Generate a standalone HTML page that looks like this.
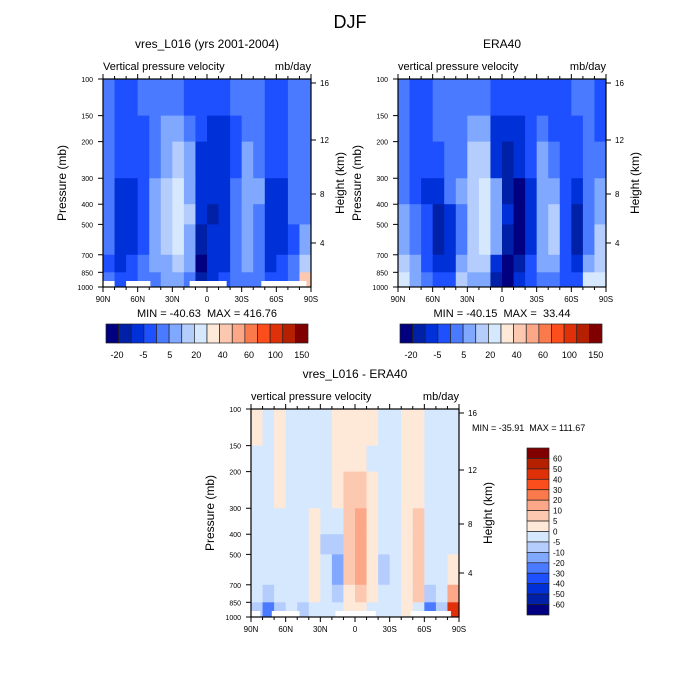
<!DOCTYPE html>
<html><head><meta charset="utf-8"><style>
body{margin:0;background:#fff}
svg{display:block;font-family:"Liberation Sans",sans-serif}
.pre{white-space:pre}
</style></head><body>
<svg id="s" width="700" height="700" viewBox="0 0 700 700">
<text x="350" y="28" font-size="18" text-anchor="middle">DJF</text>
</svg>
<script>
const bands=[100,150,200,300,400,500,700,850,1000];
const latLabels=["90N","60N","30N","0","30S","60S","90S"];
const pLabels=[100,150,200,300,400,500,700,850,1000];
const hLabels=[16,12,8,4];
const hOffsets=[4,61,115,164];
const topLevels=["-20","-5","5","20","40","60","100","150"];
const diffLevels=["60","50","40","30","20","10","5","0","-5","-10","-20","-30","-40","-50","-60"];
const palette=["#000080","#0020a8","#0030d8","#1e50ff","#4a7aff","#80a8ff","#b4cdfd","#d6e8fe","#fee8d8","#fdc8b0","#fca888","#fb7a4c","#fc4e1c","#e0300a","#b42000","#800000"];
const topBounds=[-20,-10,-5,0,5,10,20,30,40,50,60,80,100,120,150];
const diffBounds=[-60,-50,-40,-30,-20,-10,-5,0,5,10,20,30,40,50,60];
const modelGrid=[
[2,-2,-2,2,2,2,2,-2,-2,-2,-2,2,2,2,-2,-2,2,2],
[2,-2,-2,-2,2,7,7,2,-2,-7,-7,-2,2,2,-2,-2,2,2],
[2,-2,-2,-2,2,7,15,7,-7,-7,-7,-2,7,2,-2,-2,2,2],
[2,-7,-7,-2,7,15,25,7,-7,-7,-7,2,7,7,-7,-7,2,2],
[2,-7,-7,-2,7,15,25,15,-7,-15,-7,2,7,2,-7,-7,2,2],
[2,-7,-7,-2,7,15,25,7,-15,-7,-7,2,7,2,-7,-7,-2,7],
[-2,-7,-2,2,7,7,15,7,-30,-7,-7,2,7,2,-7,-2,2,15],
[2,-2,-2,2,2,7,7,2,-15,-7,-2,2,2,2,-2,-2,2,40]];
const eraGrid=[
[2,-2,-2,2,2,2,2,2,-2,-2,-2,-2,-2,-2,-2,2,2,-2],
[2,-2,-2,2,2,2,7,7,-7,-7,-7,-2,2,-2,-2,-2,2,-2],
[2,-2,-2,-2,2,2,15,15,-7,-15,-7,-2,7,2,-2,-2,2,2],
[2,-2,-7,-7,2,7,15,25,7,-15,-30,-7,7,7,-2,-7,2,7],
[7,2,-2,-15,-7,2,15,25,7,-7,-30,-7,7,15,-2,-15,2,7],
[7,2,-2,-15,-7,2,15,25,7,-15,-30,-7,7,15,-2,-15,2,15],
[15,7,-2,-7,-7,7,15,15,-7,-30,-15,-2,7,7,-2,-7,7,15],
[25,7,2,-2,-2,15,7,7,-15,-30,-7,-2,2,2,-2,-2,25,25]];
const diffGrid=[
[2,-2,2,-2,-2,-2,-2,2,2,2,2,-2,-2,2,2,-2,-2,-2],
[-2,-2,2,-2,-2,-2,-2,2,2,2,-2,-2,-2,2,2,-2,-2,-2],
[-2,-2,2,-2,-2,-2,-2,2,7,7,2,-2,-2,2,2,-2,-2,-2],
[-2,-2,-2,-2,-2,2,-2,-2,7,15,2,-2,-2,2,7,-2,-2,-2],
[-2,-2,-2,-2,-2,2,-7,-7,7,15,2,-2,-2,2,7,-2,-2,-2],
[-2,-2,-2,-2,-2,2,-2,-15,7,15,2,-7,-2,2,7,-2,-2,2],
[-2,-7,-2,-2,-2,2,-2,-7,2,7,2,-2,-2,2,7,-7,-2,15],
[-7,-25,-7,-2,-7,-2,-2,-2,2,2,-2,-2,-2,2,-2,-25,-7,40]];
const modelMissing=[[0,10],[20,41],[75,107],[137,176]];
const eraMissing=[];
const diffMissing=[[0,8],[18,42],[73,108],[138,173]];

const S=document.getElementById('s');
const NS="http://www.w3.org/2000/svg";
function mk(tag,attrs,parent){const e=document.createElementNS(NS,tag);for(const k in attrs)e.setAttribute(k,attrs[k]);(parent||S).appendChild(e);return e;}
function txt(x,y,s,size,anchor,parent){const t=mk('text',{x:x,y:y,'font-size':size,'text-anchor':anchor||'middle'},parent);t.textContent=s;return t;}
function colorIdx(v,b){let i=0;while(i<b.length&&v>=b[i])i++;return i;}

function panel(o){
  const W=208,H=208,X=o.x,Y=o.y;
  const g=mk('g',{});
  
  
  const xs=lat=>X+lat/180*W;
  const yp=p=>Y+(Math.log10(p)-2)*H;
  const nc=o.grid[0].length;
  o.grid.forEach((row,bi)=>{row.forEach((v,ci)=>{
    const r=mk('rect',{x:xs(ci*180/nc),y:yp(bands[bi]),width:W/nc+0.5,height:yp(bands[bi+1])-yp(bands[bi])+0.5,fill:palette[colorIdx(v,o.bounds)]},g);
    
    
  });});
  o.missing.forEach(m=>{const r=mk('rect',{x:xs(m[0]),y:Y+H-6,width:xs(m[1])-xs(m[0]),height:6,fill:'#fff'},g);
    
    });
  mk('rect',{x:X,y:Y,width:W,height:H,fill:'none',stroke:'#000','stroke-width':1.2},g);
  for(let d=0;d<=180;d+=10){const x=xs(d);const maj=d%30==0;
    mk('line',{x1:x,x2:x,y1:Y+H,y2:Y+H+(maj?5:3),stroke:'#000'},g);
    mk('line',{x1:x,x2:x,y1:Y,y2:Y-(maj?5:3),stroke:'#000'},g);}
  latLabels.forEach((l,i)=>{const t=txt(xs(i*30),Y+H+15,l,8,'middle',g);
    
    });
  pLabels.forEach(p=>{mk('line',{x1:X,x2:X-5,y1:yp(p),y2:yp(p),stroke:'#000'},g);
    const t=txt(X-10,yp(p)+3,String(p),7,'end',g);
    
    });
  hLabels.forEach((h,i)=>{const y=Y+hOffsets[i];mk('line',{x1:X+W,x2:X+W+5,y1:y,y2:y,stroke:'#000'},g);
    const t=txt(X+W+9,y+3,String(h),8,'start',g);
    
    });
  const t1=txt(X+W/2,Y-31,o.title,12,'middle',g);
  
  
  const t2=txt(X,Y-9,o.sub,11,'start',g);
  
  
  const t3=txt(X+W,Y-9,'mb/day',11,'end',g);
  
  
  const yl=txt(0,0,'Pressure (mb)',12,'middle',g);yl.setAttribute('transform',`translate(${X-37},${Y+H/2}) rotate(-90)`);
  
  
  const hl=txt(0,0,'Height (km)',12,'middle',g);hl.setAttribute('transform',`translate(${X+W+33},${Y+H/2}) rotate(-90)`);
  
  
  return {X,Y,W,H};
}
function hbar(x){
  const g=mk('g',{});
  
  
  const w=202/16;
  palette.forEach((c,i)=>{const r=mk('rect',{x:x+i*w,y:324,width:w,height:19,fill:c,stroke:'#222','stroke-width':0.7},g);
    
    });
  topLevels.forEach((l,i)=>{const t=txt(x+11+i*26.4,358,l,9,'middle',g);
    
    });
}
function vbar(){
  const g=mk('g',{});
  
  
  const h=167/16;
  palette.slice().reverse().forEach((c,i)=>{const r=mk('rect',{x:527,y:448+i*h,width:22,height:h,fill:c,stroke:'#222','stroke-width':0.7},g);
    
    });
  diffLevels.forEach((l,i)=>{const t=txt(553,448+(i+1)*h+3,l,8,'start',g);
    
    });
}
panel({name:'model-panel',x:103,y:79,grid:modelGrid,bounds:topBounds,missing:modelMissing,title:'vres_L016 (yrs 2001-2004)',sub:'Vertical pressure velocity'});
const mm1=txt(207,317,'MIN = -40.63  MAX = 416.76',11,'middle');
mm1.setAttribute('class','pre');


hbar(106);
panel({name:'era40-panel',x:398,y:79,grid:eraGrid,bounds:topBounds,missing:eraMissing,title:'ERA40',sub:'vertical pressure velocity'});
const mm2=txt(502,317,'MIN = -40.15  MAX =  33.44',11,'middle');
mm2.setAttribute('class','pre');


hbar(400);
panel({name:'diff-panel',x:251,y:409,grid:diffGrid,bounds:diffBounds,missing:diffMissing,title:'vres_L016 - ERA40',sub:'vertical pressure velocity'});
const mm3=txt(472,431,'MIN = -35.91  MAX = 111.67',9,'start');
mm3.setAttribute('class','pre');


vbar();
</script>
</body></html>
